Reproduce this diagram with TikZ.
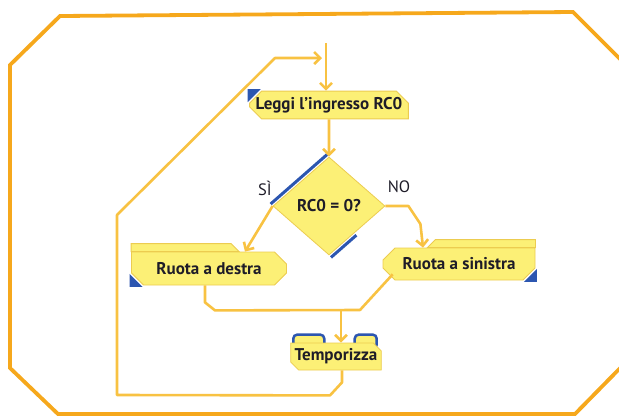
\documentclass[tikz,border=0pt]{standalone}
\usepackage{fontspec}
\setmainfont{PT Sans}
\usepackage{tikz}
\usetikzlibrary{positioning,arrows.meta,shapes.geometric,shapes.misc,backgrounds,calc}
\definecolor{frameor}{RGB}{246,168,28}
\definecolor{linkor}{RGB}{248,194,66}
\definecolor{boxyel}{RGB}{252,240,118}
\definecolor{boxrim}{RGB}{236,204,80}
\definecolor{accblue}{RGB}{44,86,176}
\definecolor{txtdark}{RGB}{30,28,40}

\begin{document}
\begin{tikzpicture}[x=1pt, y=-1pt,
  outline/.style={draw=frameor, line width=3.8pt, line join=miter},
  box/.style={chamfered rectangle, chamfered rectangle xsep=6pt, chamfered rectangle ysep=6pt, draw=boxrim, line width=0.8pt, fill=boxyel, text=txtdark, font=\fontsize{17}{20}\selectfont\bfseries, inner sep=0pt},
  test/.style={diamond, draw=boxrim, line width=0.8pt, fill=boxyel, text=txtdark, font=\fontsize{17}{20}\selectfont\bfseries, inner sep=0pt, minimum width=112pt, minimum height=98pt},
  tab/.style={fill=boxyel, draw=boxrim, line width=0.8pt},
  acc/.style={fill=accblue},
  lbl/.style={text=txtdark, font=\fontsize{16.5}{19}\selectfont},
  conn/.style={draw=linkor, line width=2.6pt, line join=round},
  arr/.style={conn, -{Straight Barb[length=6pt, width=12pt]}}
]
\clip (0,0) rectangle (619,416);
\draw[outline] (10,65) -- (60,16) -- (573,12) -- (630,69) -- (630,358) -- (575,414) -- (58,414) -- (10,368) -- cycle;

\node[box, chamfered rectangle corners={north west, north east, south west}, minimum width=153pt, minimum height=26pt] (lg) at (329,105) {Leggi l’ingresso RC0};
\node[test] (dec) at (329,206) {RC0 = 0?};
\node[box, chamfered rectangle corners={north east, south east, south west}, minimum width=155pt, minimum height=33pt] (rd) at (209,268.5) {Ruota a destra};
\node[box, chamfered rectangle corners={north west, south west, south east}, minimum width=152pt, minimum height=32pt] (rs) at (459,264) {Ruota a sinistra};
\node[box, chamfered rectangle corners={north east, south west}, chamfered rectangle xsep=4pt, chamfered rectangle ysep=4pt, minimum width=88pt, minimum height=27pt] (tp) at (336,356.5) {Temporizza};
\node[lbl] (si) at (265,188) {SÌ};
\node[lbl] (no) at (399,187) {NO};

\begin{scope}[on background layer]
\fill[acc] ([shift={(-1.5,-1.5)}]lg.north -| lg.west) -- ++(0,13) -- ++(13,-13) -- cycle;
\filldraw[tab] (rd.north -| rd.west) -- ++(0,-8) -- ++(100,0) -- ++(8,8) -- cycle;
\fill[acc] ([shift={(-1.5,1.5)}]rd.south -| rd.west) -- ++(0,-13) -- ++(13,13) -- cycle;
\filldraw[tab] (rs.north -| rs.east) -- ++(0,-8) -- ++(-100,0) -- ++(-8,8) -- cycle;
\fill[acc] ([shift={(1.5,1.5)}]rs.south -| rs.east) -- ++(0,-13) -- ++(-13,13) -- cycle;
\filldraw[fill=boxyel, draw=accblue, line width=2.5pt, rounded corners=4pt] ([shift={(3,6)}]tp.north -| tp.west) rectangle ++(31,-14);
\filldraw[fill=boxyel, draw=accblue, line width=2.5pt, rounded corners=4pt] ([shift={(-5,6)}]tp.north -| tp.east) rectangle ++(-22,-14);
\draw[accblue, line width=3pt] ([shift={(-2,-2)}]dec.north) -- ([shift={(-2,-2)}]dec.west);
\draw[accblue, line width=3pt] ([shift={(2,2)}]dec.south) -- ($(dec.south)!0.45!(dec.east)+(2,2)$);
\end{scope}

\coordinate (entry) at (326,43);
\coordinate (loopin) at (322,58);
\coordinate (lp1) at (117,395);
\coordinate (lp2) at (117,215);
\coordinate (lp3) at (275,58);
\coordinate (mrg) at (341,310);
\draw[arr] (entry) -- (entry |- lg.north);
\draw[arr] (lg) -- (dec);
\draw[arr] (dec.west) -- ([xshift=36]rd.north);
\draw[arr] (dec.east) -- ++(23,0) -- ++(12,18) -- ([xshift=-36]rs.north);
\draw[conn] ([xshift=-4]rd.south) -- ++(0,17) -- ++(10,8) -- (360,310) -- ([xshift=4]rs.south west);
\draw[arr] (mrg) -- (mrg |- tp.north);
\draw[arr] ([xshift=6]tp.south) -- ++(0,12) -- ++(-12,13) -- (lp1) -- (lp2) -- (lp3) -- (loopin);
\end{tikzpicture}
\end{document}
